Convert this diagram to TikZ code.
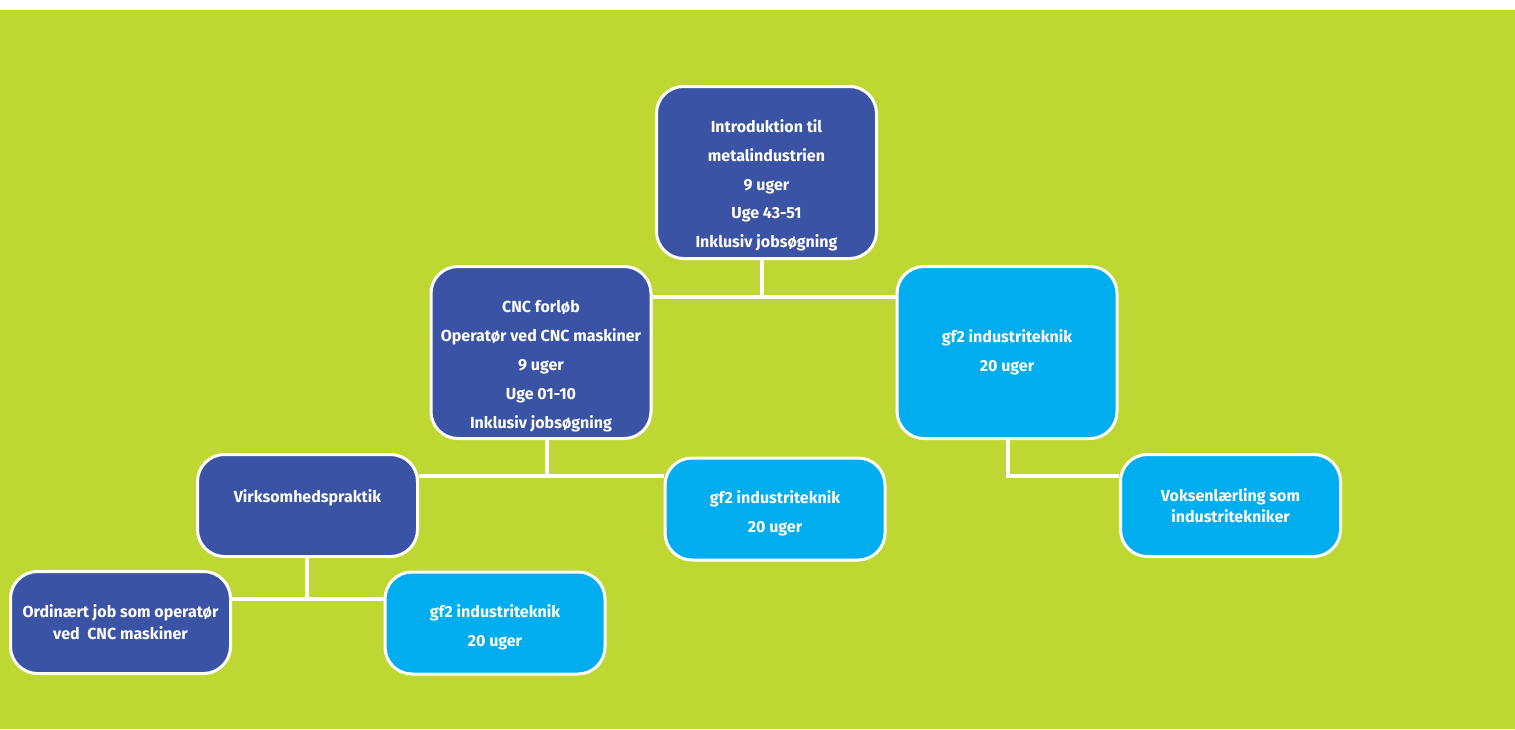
\documentclass[tikz,border=0pt]{standalone}
\usepackage{fontspec}
\setmainfont{Fira Sans}
\definecolor{bggreen}{HTML}{BED732}
\definecolor{darkbox}{HTML}{3A53A4}
\definecolor{lightbox}{HTML}{00AEEF}

\begin{document}
\begin{tikzpicture}[x=0.5pt, y=-0.5pt,
  box/.style={shape=rectangle, rounded corners=13.5pt, draw=white, line width=1.5pt, text=white,
    font=\bfseries\fontsize{8}{14.4}\selectfont, align=center, inner sep=0pt,
    minimum width=110pt, minimum height=51pt},
  dark/.style={box, fill=darkbox},
  light/.style={box, fill=lightbox},
  link/.style={draw=white, line width=2.2pt}]
\fill [white] (0,0) rectangle (1515,729);
\fill [bggreen] (0,10) rectangle (1515,729);
\useasboundingbox (0,0) rectangle (1515,729);

\node [dark, minimum height=86pt, text height=77pt] (Intro) at (766.5,172.5) {Introduktion til\\metalindustrien\\9 uger\\Uge 43-51\\Inklusiv jobsøgning};
\node [dark, minimum height=86pt, text height=77.4pt] (CNC) at (541,352.5) {CNC forløb\\Operatør ved CNC maskiner\\9 uger\\Uge 01-10\\Inklusiv jobsøgning};
\node [light, minimum height=86pt] (Gf1) at (1007,352.5) {gf2 industriteknik\\20 uger};
\node [dark, text depth=9pt] (Prak) at (307.5,505.5) {Virksomhedspraktik};
\node [light, text height=25pt] (Gf2) at (775,509) {gf2 industriteknik\\20 uger};
\node [light] (Voks) at (1230.5,505.5) {Voksenlærling som\\[-4pt]industritekniker};
\node [dark] (Job) at (120.5,622.5) {Ordinært job som operatør\\[-3.4pt]ved\ \ CNC maskiner};
\node [light, text height=25pt] (Gf3) at (495,623) {gf2 industriteknik\\20 uger};

\coordinate (J1) at (762,297);
\coordinate (J2) at (547,476);
\coordinate (J3) at (307,599);
\coordinate (J4) at (1008,476);

\draw [link] (Intro.south -| J1) -- (J1);
\draw [link] (CNC.east |- J1) -- (Gf1.west |- J1);
\draw [link] (CNC.south -| J2) -- (J2);
\draw [link] (Prak.east |- J2) -- (Gf2.west |- J2);
\draw [link] (Prak.south -| J3) -- (J3);
\draw [link] (Job.east |- J3) -- (Gf3.west |- J3);
\draw [link] (Gf1.south -| J4) |- (Voks.west |- J4);
\end{tikzpicture}
\end{document}
